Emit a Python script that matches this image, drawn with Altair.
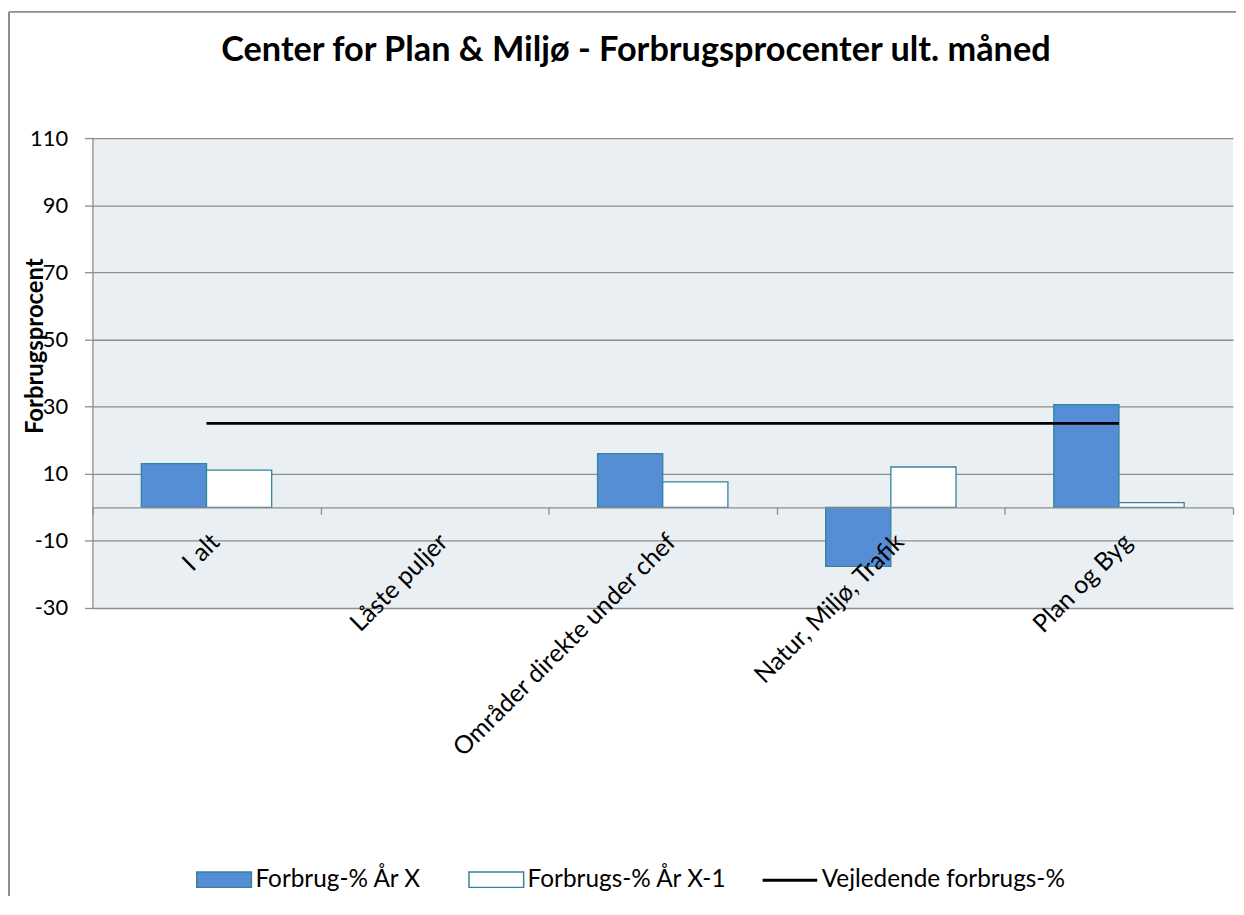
import altair as alt
import pandas as pd

categories = ["I alt", "Låste puljer", "Områder direkte under chef", "Natur, Miljø, Trafik", "Plan og Byg"]
forbrug_x = [13.0, None, 16.0, -17.6, 30.6]
forbrug_x1 = [11.1, None, 7.6, 12.0, 1.4]
vejledende = [25, 25, 25, 25, 25]

bar_series = ["Forbrug-% År X", "Forbrugs-% År X-1"]
bar_colors = ["#558ED5", "#FFFFFF"]
line_series = ["Vejledende forbrugs-%"]
line_colors = ["#000000"]

title_text = "Center for Plan & Miljø - Forbrugsprocenter ult. måned"

y_min, y_max = -30, 110
y_ticks = [-30, -10, 10, 30, 50, 70, 90, 110]

W, H = 1148, 473
FONT = "Lato"
GRID = "#8E8E8E"
EDGE = "#31859C"

bars = pd.DataFrame({
    "cat": categories * 2,
    "series": [bar_series[0]] * 5 + [bar_series[1]] * 5,
    "value": forbrug_x + forbrug_x1,
})
line = pd.DataFrame({"cat": categories, "series": line_series[0], "value": vejledende})

x_offset = -H * (0 - y_min) / (y_max - y_min)

x_enc = alt.X(
    "cat:N", sort=categories, title=None,
    scale=alt.Scale(paddingInner=0, paddingOuter=0),
    axis=alt.Axis(
        offset=x_offset, labelAngle=-45, labelAlign="right", labelBaseline="top",
        labelFontSize=25, labelFont=FONT, labelColor="#000", labelPadding=15, labelLimit=1000,
        tickBand="extent", tickSize=7, tickColor=GRID, tickWidth=1.3,
        domainColor=GRID, domainWidth=1.3, grid=False, zindex=1,
    ),
)
y_enc = alt.Y(
    "value:Q", title="Forbrugsprocent",
    scale=alt.Scale(domain=[y_min, y_max], nice=False, zero=False),
    axis=alt.Axis(
        values=y_ticks, labelExpr="'' + datum.value",
        labelFontSize=22, labelFont=FONT, labelColor="#000", labelPadding=17,
        tickSize=8, tickColor=GRID, tickWidth=1.3, domainColor=GRID, domainWidth=1.3,
        grid=True, gridColor=GRID, gridWidth=1.3,
        titleFont=FONT, titleFontSize=24, titleFontWeight="bold", titleColor="#000",
        titleAngle=270, titleX=-57, titleY=209, titleAlign="center", titleBaseline="middle",
    ),
)

legend_common = dict(
    orient="none", direction="horizontal", title=None, symbolSize=3025,
    labelFontSize=24.5, labelFont=FONT, labelColor="#000", labelOffset=3, columnPadding=44,
    labelLimit=1000,
)

bar_layer = alt.Chart(bars).mark_bar(stroke=EDGE, strokeWidth=1.3).encode(
    x=x_enc,
    xOffset=alt.XOffset("series:N", sort=bar_series, scale=alt.Scale(paddingOuter=0.75, paddingInner=0)),
    y=y_enc,
    fill=alt.Fill(
        "series:N", sort=bar_series,
        scale=alt.Scale(domain=bar_series, range=bar_colors),
        legend=alt.Legend(
            legendX=104, legendY=718, symbolType="M-1,-0.28H1V0.28H-1Z",
            symbolStrokeColor=EDGE, symbolStrokeWidth=1.5, symbolOpacity=1,
            **legend_common,
        ),
    ),
)

line_layer = alt.Chart(line).mark_line(strokeWidth=3).encode(
    x=alt.X("cat:N", sort=categories),
    y=alt.Y("value:Q"),
    stroke=alt.Stroke(
        "series:N",
        scale=alt.Scale(domain=line_series, range=line_colors),
        legend=alt.Legend(
            legendX=673, legendY=718, symbolType="stroke", symbolStrokeWidth=3,
            **legend_common,
        ),
    ),
)

title_layer = alt.Chart(alt.Data(values=[{"t": title_text}])).mark_text(
    font=FONT, fontSize=34.5, fontWeight="bold", color="#000", align="center", baseline="alphabetic"
).encode(x=alt.value(W / 2 - 27), y=alt.value(-78), text="t:N")

frame = alt.Chart(alt.Data(values=[{}])).mark_rule(color=GRID, strokeWidth=2).encode(
    x=alt.value(-84), y=alt.value(-127), y2=alt.value(H + 290)
)
frame_top = alt.Chart(alt.Data(values=[{}])).mark_rule(color=GRID, strokeWidth=2).encode(
    x=alt.value(-84), x2=alt.value(W + 3), y=alt.value(-127)
)

chart = alt.layer(bar_layer, line_layer, title_layer, frame, frame_top).resolve_scale(
    fill="independent", stroke="independent"
).properties(
    width=W, height=H,
    autosize=alt.AutoSizeParams(type="none"),
    padding={"left": 85, "top": 128, "right": 3, "bottom": 290},
).configure(background="white").configure_view(fill="#E9EFF3", stroke=None)

chart.save("out.html", embed_options={"renderer": "svg", "actions": False})
